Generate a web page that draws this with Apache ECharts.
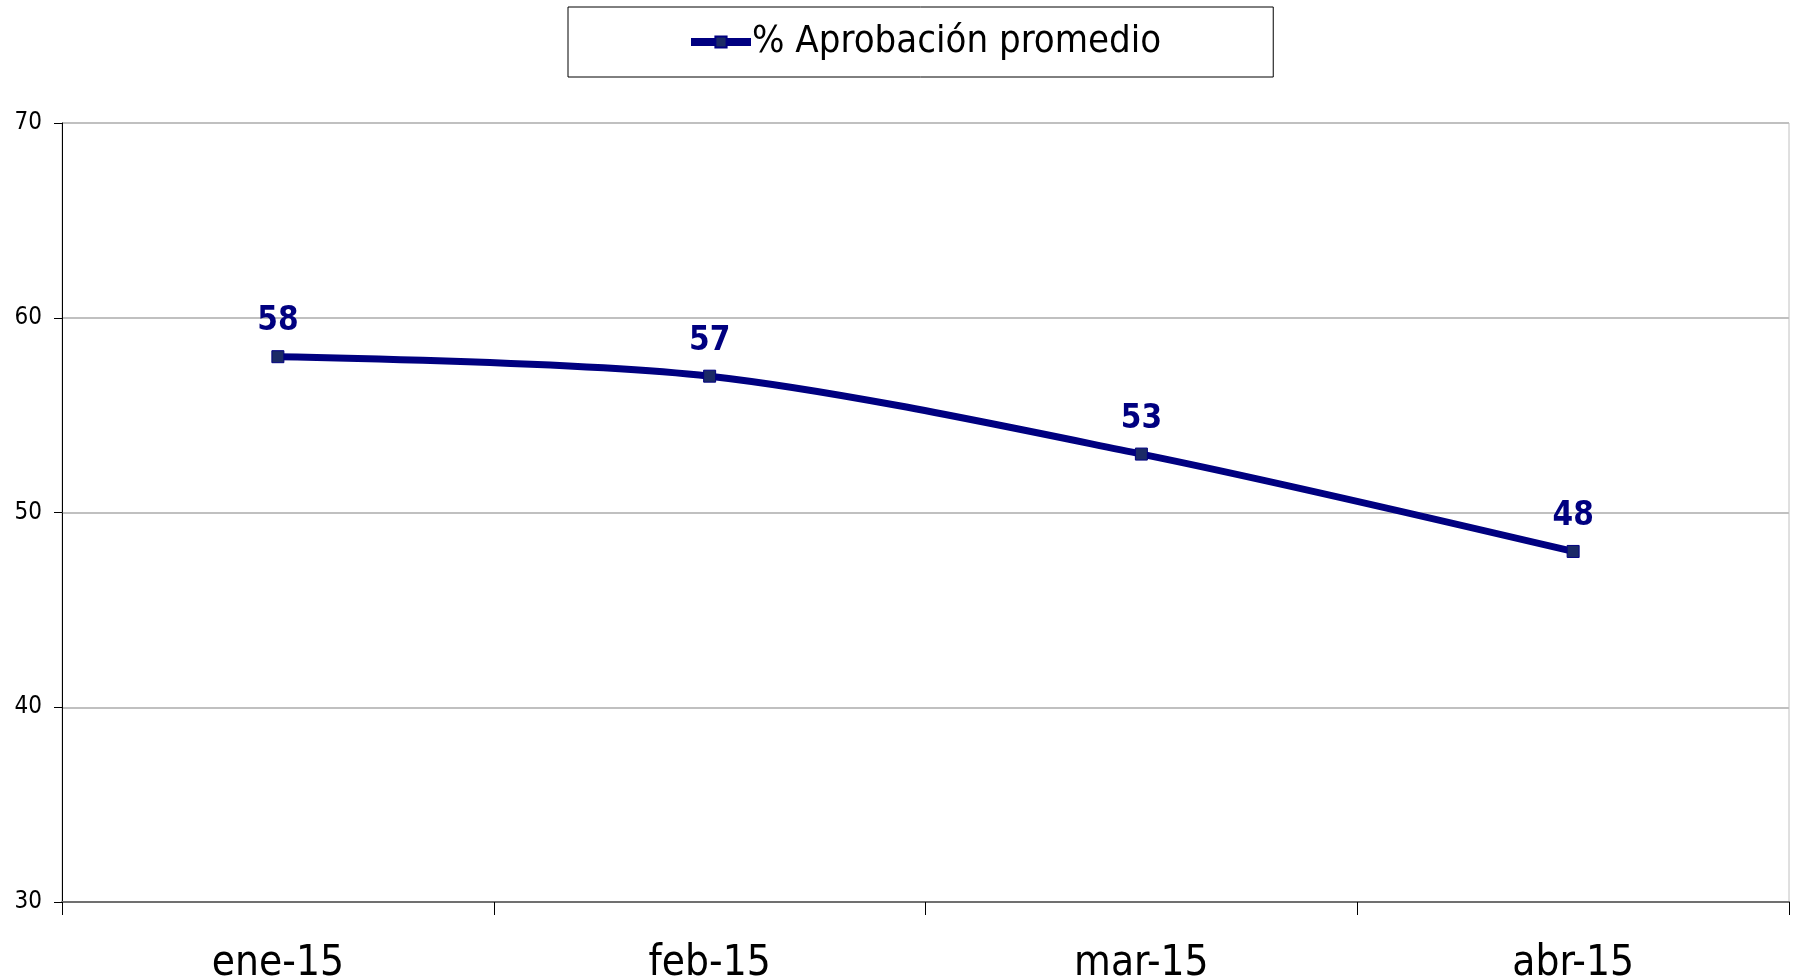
<!DOCTYPE html>
<html>
<head>
<meta charset="utf-8">
<script src="https://cdn.jsdelivr.net/npm/echarts@6/dist/echarts.min.js"></script>
<style>
  html, body { margin: 0; padding: 0; background: #fff; }
  #main { width: 1795px; height: 978px; }
</style>
</head>
<body>
<div id="main"></div>
<script>
var meses = ['ene-15', 'feb-15', 'mar-15', 'abr-15'];
var aprobacion = [58, 57, 53, 48];
var serieNombre = '% Aprobación promedio';

var fuente = '"DejaVu Sans Condensed", "DejaVu Sans", sans-serif';
var myChart = echarts.init(document.getElementById('main'));

var option = {
    backgroundColor: '#fff',
    animation: false,
    legend: {
        left: 568,
        top: 7,
        padding: [16, 112, 16, 119],
        borderColor: '#000',
        borderWidth: 1,
        itemWidth: 60,
        itemHeight: 14,
        itemGap: 0,
        lineStyle: { width: 8, color: '#000080' },
        textStyle: { fontFamily: fuente, fontSize: 38, color: '#000', padding: [0, 0, 0, -4] },
        data: [serieNombre]
    },
    grid: {
        left: 62,
        right: 6,
        top: 123,
        bottom: 76,
        outerBoundsMode: 'none',
        show: true,
        borderColor: '#c0c0c0',
        borderWidth: 1
    },
    xAxis: {
        type: 'category',
        data: meses,
        boundaryGap: true,
        axisLine: { lineStyle: { color: '#707070', width: 2 } },
        axisTick: { show: true, length: 13, lineStyle: { color: '#000', width: 1 } },
        axisLabel: { fontFamily: fuente, fontSize: 42, color: '#000', margin: 41 }
    },
    yAxis: {
        type: 'value',
        min: 30,
        max: 70,
        interval: 10,
        axisLine: { show: true, lineStyle: { color: '#000', width: 1 } },
        axisTick: { show: true, length: 8, lineStyle: { color: '#000' } },
        axisLabel: { fontFamily: fuente, fontSize: 24, color: '#000', margin: 20 },
        splitLine: { lineStyle: { color: '#c0c0c0', width: 2 } }
    },
    series: [
        {
            name: serieNombre,
            type: 'line',
            data: aprobacion,
            smooth: 0.3,
            symbol: 'rect',
            symbolSize: 12,
            lineStyle: { color: '#000080', width: 7 },
            itemStyle: { color: '#1b2a66', borderColor: '#000080', borderWidth: 1 },
            label: {
                show: true,
                position: 'top',
                distance: 12,
                fontFamily: fuente,
                fontSize: 33,
                fontWeight: 'bold',
                color: '#000080'
            }
        }
    ]
};

// 画图
myChart.setOption(option, true);
</script>
</body>
</html>
